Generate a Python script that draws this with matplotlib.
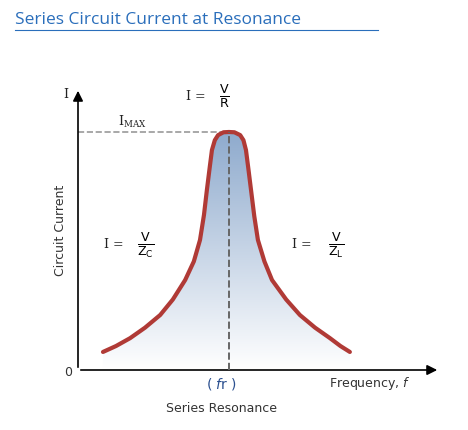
import numpy as np
import matplotlib
matplotlib.use("Agg")
import matplotlib.pyplot as plt
from matplotlib.patches import Polygon

# curve (frequency, current) in 0..10 axis units
freq = [0.69, 1.05, 1.44, 1.85, 2.27, 2.62, 2.96, 3.20, 3.37, 3.48, 3.56, 3.64, 3.70, 3.78,
        3.87, 4.02, 4.17, 4.32, 4.48, 4.57, 4.64, 4.71, 4.78, 4.87, 4.97, 5.15, 5.36, 5.75,
        6.13, 6.55, 6.96, 7.25, 7.51]
current = [0.64, 0.85, 1.13, 1.50, 1.95, 2.50, 3.19, 3.85, 4.61, 5.50, 6.38, 7.20, 7.80, 8.15,
           8.33, 8.43, 8.44, 8.43, 8.33, 8.15, 7.80, 7.10, 6.38, 5.45, 4.61, 3.85, 3.19, 2.50,
           1.95, 1.50, 1.13, 0.85, 0.64]
f_res = 4.17
i_max = 8.44

W, H = 468, 430
fig = plt.figure(figsize=(W / 100, H / 100), dpi=100)
fig.patch.set_facecolor("white")

ax = fig.add_axes([78 / W, 60 / H, 362 / W, 282 / H])
ax.set_xlim(0, 10)
ax.set_ylim(0, 10)
ax.axis("off")

# gradient fill under curve
poly = Polygon(list(zip(freq, current)) + [(freq[-1], 0), (freq[0], 0)], closed=True,
               facecolor="none", edgecolor="none")
ax.add_patch(poly)
grad = np.linspace(0, 1, 256).reshape(-1, 1)
cmap = matplotlib.colors.LinearSegmentedColormap.from_list("g", ["#ffffff", "#8eaacd"])
im = ax.imshow(grad, extent=[0, 10, 0, i_max], origin="lower", cmap=cmap, aspect="auto", zorder=1)
im.set_clip_path(poly)

ax.plot(freq, current, color="#b03a36", lw=3, zorder=3, solid_capstyle="round",
        solid_joinstyle="round")
ax.plot([0, f_res], [i_max, i_max], ls="--", color="#999999", lw=1.2, zorder=2)
ax.plot([f_res, f_res], [0, i_max], ls="--", color="#666666", lw=1.4, zorder=4)

# axes arrows
ax.annotate("", xy=(10, 0), xytext=(0, 0),
            arrowprops=dict(arrowstyle="-|>", color="black", lw=1.2, mutation_scale=15),
            annotation_clip=False)
ax.annotate("", xy=(0, 10), xytext=(0, 0),
            arrowprops=dict(arrowstyle="-|>", color="black", lw=1.2, mutation_scale=15),
            annotation_clip=False)

# text layer in pixel coords
t = fig.add_axes([0, 0, 1, 1], facecolor="none")
t.set_xlim(0, W)
t.set_ylim(H, 0)
t.axis("off")
t.text(15, 20, "Series Circuit Current at Resonance", color="#2a6ebb", fontsize=12.5,
       family="Open Sans", va="center")
t.plot([15, 378], [30, 30], color="#2a6ebb", lw=0.8)
kw = dict(fontsize=9, color="#222222", family="DejaVu Serif")
t.text(66, 95, "I", ha="center", va="center", **kw)
t.text(118, 122, r"I$_{\mathregular{MAX}}$", va="center", **kw)
t.text(186, 96, "I =", va="center", **kw)
t.text(224, 96, r"$\mathregular{\frac{V}{R}}$", ha="center", va="center", fontsize=13)
t.text(104, 245, "I =", va="center", **kw)
t.text(146, 245, r"$\mathregular{\frac{V}{Z_C}}$", ha="center", va="center", fontsize=13)
t.text(292, 245, "I =", va="center", **kw)
t.text(336, 245, r"$\mathregular{\frac{V}{Z_L}}$", ha="center", va="center", fontsize=13)
t.text(60, 230, "Circuit Current", rotation=90, ha="center", va="center", fontsize=9, color="#333333")
t.text(68, 373, "0", ha="center", va="center", fontsize=9, color="#333333")
t.text(222, 384, r"( $f$r )", ha="center", va="center", fontsize=10, color="#2a4f8f")
t.text(370, 384, r"Frequency, $f$", ha="center", va="center", fontsize=9, color="#333333")
t.text(222, 408, "Series Resonance", ha="center", va="center", fontsize=9, color="#333333")

fig.savefig("out.png", dpi=100)
